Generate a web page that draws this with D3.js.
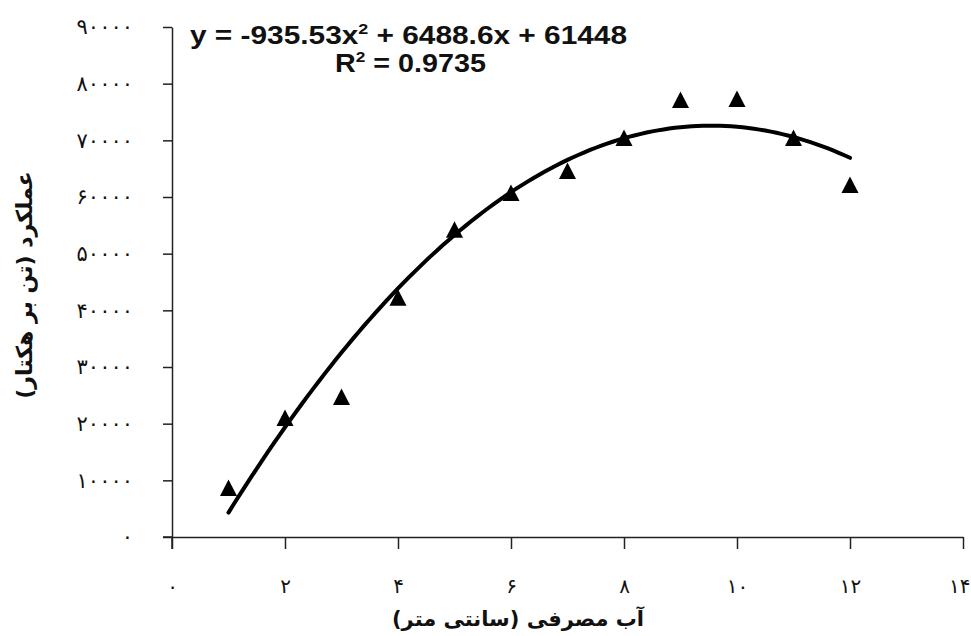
<!DOCTYPE html>
<html>
<head>
<meta charset="utf-8">
<script src="https://cdn.jsdelivr.net/npm/d3@7"></script>
<style>
  body { margin: 0; background: #fff; }
  svg { display: block; }
  .fa { font-family: "DejaVu Sans", sans-serif; }
  .eq { font-family: "Liberation Sans", Arial, sans-serif; font-weight: bold; }
</style>
</head>
<body>
<div id="chart"></div>
<script>
// water applied (cm) and yield (kg/ha)
const waterCm = [1, 2, 3, 4, 5, 6, 7, 8, 9, 10, 11, 12];
const yieldKg = [8650, 21000, 24700, 42200, 54200, 60700, 64600, 70400, 77100, 77300, 70400, 62100];

const xTicks = [0, 2, 4, 6, 8, 10, 12, 14];
const yTicks = [0, 10000, 20000, 30000, 40000, 50000, 60000, 70000, 80000, 90000];

const eqText = "y = -935.53x";
const eqRest = "  + 6488.6x  + 61448";
const r2Text = " = 0.9735";
const xTitle = "آب مصرفی (سانتی متر)";
const yTitle = "عملکرد (تن بر هکتار)";

const W = 971, H = 636;
const fa = n => String(n).replace(/\d/g, d => "۰۱۲۳۴۵۶۷۸۹"[d]);

const svg = d3.select("#chart").append("svg")
  .attr("width", W).attr("height", H);

const x = d3.scaleLinear().domain([0, 14]).range([172, 963]);
const y = d3.scaleLinear().domain([0, 90000]).range([537, 27]);

// Ejes
const yAxis = svg.append("g")
  .attr("transform", `translate(${x(0)},0)`)
  .call(d3.axisLeft(y).tickValues(yTicks).tickSize(9).tickSizeOuter(0)
    .tickPadding(30).tickFormat(fa));

const xAxis = svg.append("g")
  .attr("transform", `translate(0,${y(0)})`)
  .call(d3.axisBottom(x).tickValues(xTicks).tickSize(12).tickSizeOuter(0)
    .tickPadding(40).tickFormat(fa));

[yAxis, xAxis].forEach(g => {
  g.selectAll("path, line").attr("stroke", "#222").attr("stroke-width", 1.5);
  g.selectAll("text").attr("class", "fa").attr("font-size", 21).attr("fill", "#111")
    .attr("font-family", null);
});
yAxis.selectAll("text").attr("letter-spacing", 1.5);
xAxis.selectAll("text").attr("dy", "0.2em").attr("font-size", 20);
// la última etiqueta se alinea al borde
xAxis.selectAll(".tick").filter(d => d === xTicks[xTicks.length - 1]).select("text")
  .attr("text-anchor", "end").attr("dx", 7);

// prolongaciones de los ejes
svg.append("line")
  .attr("x1", x(0)).attr("x2", x(0)).attr("y1", y(0)).attr("y2", y(0) + 12)
  .attr("stroke", "#222").attr("stroke-width", 1.5);
svg.append("line")
  .attr("x1", x(0) - 9).attr("x2", x(0)).attr("y1", y(0)).attr("y2", y(0))
  .attr("stroke", "#222").attr("stroke-width", 1.5);

// Ajuste cuadrático por mínimos cuadrados
const data = waterCm.map((w, i) => ({ w, v: yieldKg[i] }));
function quadFit(pts) {
  const s = k => d3.sum(pts, p => Math.pow(p.w, k));
  const t = k => d3.sum(pts, p => Math.pow(p.w, k) * p.v);
  const A = [[s(4), s(3), s(2)], [s(3), s(2), s(1)], [s(2), s(1), pts.length]];
  const B = [t(2), t(1), t(0)];
  const det = m => m[0][0]*(m[1][1]*m[2][2]-m[1][2]*m[2][1])
                 - m[0][1]*(m[1][0]*m[2][2]-m[1][2]*m[2][0])
                 + m[0][2]*(m[1][0]*m[2][1]-m[1][1]*m[2][0]);
  const D = det(A);
  return [0, 1, 2].map(c => det(A.map((row, r) => row.map((v, j) => j === c ? B[r] : v))) / D);
}
const [qa, qb, qc] = quadFit(data);
const fitPts = d3.range(waterCm[0], waterCm[waterCm.length - 1] + 0.001, 0.1)
  .map(w => ({ w, v: qa * w * w + qb * w + qc }));

svg.append("path")
  .datum(fitPts)
  .attr("fill", "none")
  .attr("stroke", "#000")
  .attr("stroke-width", 4)
  .attr("stroke-linecap", "round")
  .attr("d", d3.line().x(d => x(d.w)).y(d => y(d.v)));

// Triángulos
svg.selectAll(".pt")
  .data(data)
  .enter().append("path")
  .attr("class", "pt")
  .attr("transform", d => `translate(${x(d.w)},${y(d.v)})`)
  .attr("d", "M0,-8.5L8.5,8L-8.5,8Z")
  .attr("fill", "#000");

// Ecuación
const eq = svg.append("text").attr("class", "eq")
  .attr("x", 190).attr("y", 44).attr("font-size", 25).attr("fill", "#111")
  .attr("textLength", 437).attr("lengthAdjust", "spacingAndGlyphs");
eq.append("tspan").text(eqText);
eq.append("tspan").attr("font-size", 15).attr("dy", -10).text("2");
eq.append("tspan").attr("dy", 10).text(eqRest);

const r2 = svg.append("text").attr("class", "eq")
  .attr("x", 335).attr("y", 72).attr("font-size", 25).attr("fill", "#111")
  .attr("textLength", 151).attr("lengthAdjust", "spacingAndGlyphs");
r2.append("tspan").text("R");
r2.append("tspan").attr("font-size", 15).attr("dy", -10).text("2");
r2.append("tspan").attr("dy", 10).text(r2Text);

// Títulos
svg.append("text").attr("class", "fa")
  .attr("x", 518).attr("y", 626)
  .attr("text-anchor", "middle").attr("font-size", 21).attr("font-weight", "bold")
  .attr("fill", "#111").attr("direction", "rtl")
  .text(xTitle);

svg.append("text").attr("class", "fa")
  .attr("transform", "translate(32,285) rotate(-90)")
  .attr("text-anchor", "middle").attr("font-size", 22).attr("font-weight", "bold")
  .attr("fill", "#111").attr("direction", "rtl")
  .text(yTitle);
</script>
</body>
</html>
